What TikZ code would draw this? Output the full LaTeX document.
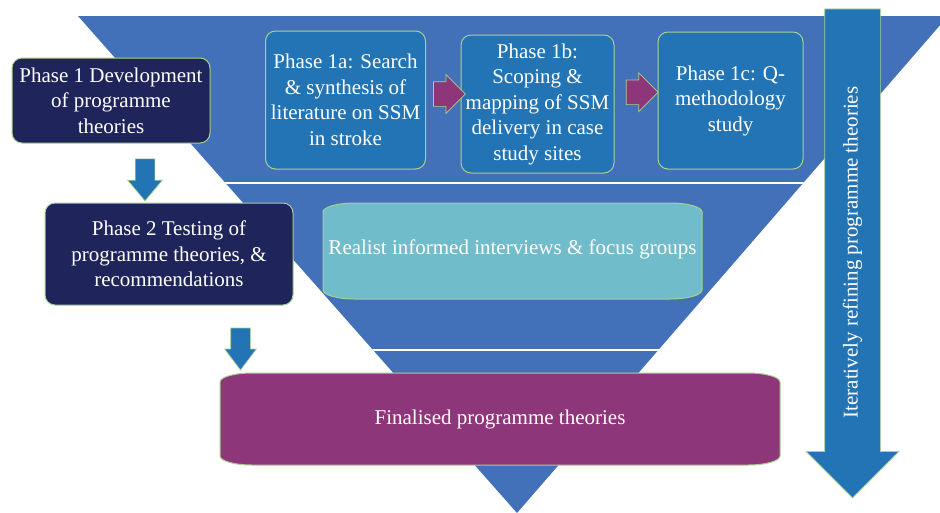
\documentclass[tikz,border=0pt]{standalone}
\usepackage{fontspec}
\setmainfont{Liberation Serif}
\usetikzlibrary{positioning,calc,shapes.arrows}

\definecolor{funnelblue}{RGB}{66,113,186}
\definecolor{boxblue}{RGB}{35,116,181}
\definecolor{navy}{RGB}{31,37,90}
\definecolor{aqua}{RGB}{112,188,203}
\definecolor{plum}{RGB}{142,54,122}
\definecolor{edgegreen}{RGB}{168,208,142}

\tikzset{
  phasebox/.style={draw=edgegreen, line width=1pt, rounded corners=10pt,
    text=white, align=center, inner sep=2pt,
    font=\fontsize{21}{25.5}\selectfont},
  stepbox/.style={phasebox, fill=boxblue},
  mainbox/.style={phasebox, fill=navy},
  fatarrow/.style={single arrow, draw=edgegreen, line width=0.7pt,
    inner xsep=0pt, single arrow tip angle=90},
}

% elliptic-cornered box between two corners
\newcommand{\capsule}[3]{%
  \filldraw[fill=#3, draw=edgegreen, line width=1pt]
    let \p1=(#1), \p2=(#2) in
    (\x1,\y1-9pt) arc[start angle=180, end angle=90, x radius=32pt, y radius=9pt]
    -- (\x2-32pt,\y1) arc[start angle=90, end angle=0, x radius=32pt, y radius=9pt]
    -- (\x2,\y2+9pt) arc[start angle=0, end angle=-90, x radius=32pt, y radius=9pt]
    -- (\x1+32pt,\y2) arc[start angle=-90, end angle=-180, x radius=32pt, y radius=9pt]
    -- cycle;}

\begin{document}
\begin{tikzpicture}[x=1pt, y=-1pt]
\useasboundingbox (0,0) rectangle (940,512);
\clip (0,0) rectangle (940,512);

% funnel
\fill[funnelblue] (78,16) -- (948,16) -- (517,513) -- cycle;
\begin{scope}
  \clip (78,16) -- (948,16) -- (517,513) -- cycle;
  \draw[white, line width=2pt] (0,183) -- (940,183);
  \draw[white, line width=2pt] (0,350) -- (940,350);
\end{scope}

% phase 1 sub-studies
\node[stepbox, minimum width=160pt, minimum height=138pt] (p1a) at (345.5,100)
  {Phase 1a: Search\\\& synthesis of\\literature on SSM\\in stroke};
\node[stepbox, minimum width=153pt, minimum height=138pt] (p1b) at (537.5,104)
  {Phase 1b:\\Scoping \&\\mapping of SSM\\delivery in case\\study sites};
\node[stepbox, minimum width=145pt, minimum height=137pt] (p1c) at (730.5,100.5)
  {Phase 1c: Q-\\methodology\\study};

\node[fatarrow, fill=plum, minimum height=32pt, inner ysep=12pt,
  single arrow head extend=7pt]
  (a1) at ($(p1a.east)!.5!(p1b.west)+(0,-8)$) {};
\node[fatarrow, fill=plum, minimum height=32pt, inner ysep=12pt,
  single arrow head extend=7pt]
  (a2) at ($(p1b.east)!.5!(p1c.west)+(0,-10)$) {};

% phases
\node[mainbox, minimum width=198pt, minimum height=85pt] (p1) at (111,100.5)
  {Phase 1 Development\\of programme\\theories};
\node[mainbox, minimum width=248pt, minimum height=102pt] (p2) at (169,254)
  {Phase 2 Testing of\\programme theories, \&\\recommendations};

% interviews
\coordinate (rl nw) at (323,203);
\coordinate (rl se) at (702,299);
\capsule{rl nw}{rl se}{aqua}
\node[text=white, font=\fontsize{21}{25.5}\selectfont] (realist)
  at ($(rl nw)!.5!(rl se)+(0,-2)$) {Realist informed interviews \& focus groups};

% final
\coordinate (fin nw) at (220,373);
\coordinate (fin se) at (780,465);
\capsule{fin nw}{fin se}{plum}
\node[text=white, font=\fontsize{21}{25.5}\selectfont] (final)
  at ($(fin nw)!.5!(fin se)$) {Finalised programme theories};

% downward arrows
\node[fatarrow, fill=boxblue, rotate=-90, minimum height=42pt, inner ysep=9.5pt,
  single arrow head extend=7.5pt, single arrow tip angle=80]
  (d1) at ($(p1.south)!.5!(p2.north)+(5,1)$) {};
\node[fatarrow, fill=boxblue, rotate=-90, minimum height=42pt, inner ysep=9.5pt,
  single arrow head extend=6pt, single arrow tip angle=74]
  (d2) at ($(p2.south east)+(-53,37)$) {};

% iteration arrow
\node[fatarrow, fill=boxblue, rotate=-90, minimum height=489pt, inner ysep=27.5pt,
  single arrow head extend=18.5pt] (iter) at (852.5,239.5) {};
\node[rotate=90, text=white, font=\fontsize{21}{25.5}\selectfont] (iter label)
  at ($(iter.center)+(0,13)$) {Iteratively refining programme theories};

\end{tikzpicture}
\end{document}
